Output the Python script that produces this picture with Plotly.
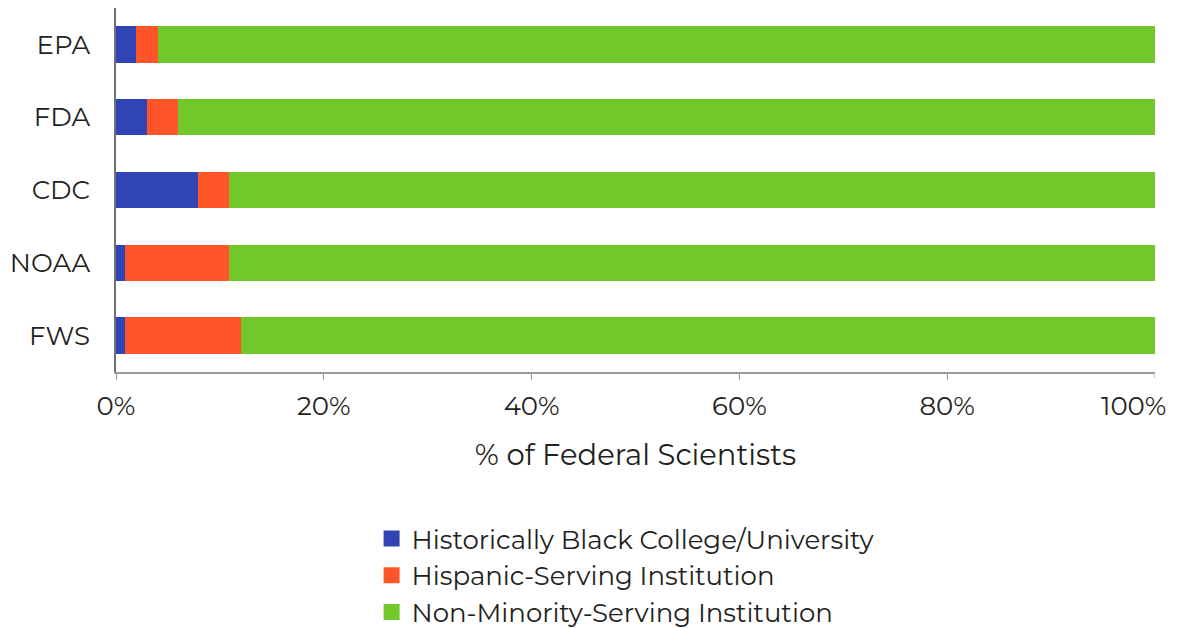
import plotly.graph_objects as go

agencies = ["EPA", "FDA", "CDC", "NOAA", "FWS"]
hbcu = [1.9, 3.0, 7.9, 0.9, 0.9]
hsi = [2.1, 3.0, 3.0, 10.0, 11.1]
non_msi = [96.0, 94.0, 89.1, 89.1, 88.0]

tick_vals = [0, 20, 40, 60, 80, 100]
tick_text = ["0%", "20%", "40%", "60%", "80%", "100%"]

series = [
    ("Historically Black College/University", hbcu, "#3044B5"),
    ("Hispanic-Serving Institution", hsi, "#FF5529"),
    ("Non-Minority-Serving Institution", non_msi, "#72C72A"),
]

fig = go.Figure()
for i, (name, vals, color) in enumerate(series):
    fig.add_trace(go.Bar(
        y=agencies, x=vals, name=name, orientation="h",
        marker=dict(color=color, line=dict(width=0)),
        legendgroup=f"g{i}", showlegend=False,
    ))
    # legend-only entry with a larger square swatch
    fig.add_trace(go.Scatter(
        x=[None], y=[None], mode="markers", name=name,
        marker=dict(symbol="square", size=18, color=color, line=dict(width=0)),
        legendgroup=f"g{i}", showlegend=True, hoverinfo="skip",
    ))

font_family = "Montserrat, Lato, 'Open Sans', sans-serif"
fig.update_layout(
    barmode="stack",
    bargap=0.5,
    width=1177, height=628,
    margin=dict(l=108, r=30, t=0, b=264, autoexpand=False),
    paper_bgcolor="white", plot_bgcolor="white",
    font=dict(family=font_family, color="#231F20", size=26),
    showlegend=True,
    legend=dict(
        orientation="v", x=0.246, xanchor="left", y=-0.393, yanchor="top",
        font=dict(size=26, color="#231F20"), traceorder="normal",
        itemwidth=30, tracegroupgap=0, itemsizing="trace",
    ),
    xaxis=dict(
        range=[0, 100], tickvals=tick_vals[:-1], ticktext=tick_text[:-1],
        showgrid=False, zeroline=False,
        showline=True, linecolor="#9A9A9A", linewidth=1.5,
        ticks="outside", ticklen=6, tickcolor="#9A9A9A",
        tickfont=dict(size=26), ticklabelstandoff=4,
        automargin=False,
        title=dict(text="% of Federal Scientists", font=dict(size=29), standoff=24),
    ),
    yaxis=dict(
        categoryorder="array", categoryarray=agencies, autorange="reversed",
        showgrid=False, zeroline=False, automargin=False,
        showline=True, linecolor="#707070", linewidth=1.5,
        ticks="", tickfont=dict(size=26), ticklabelstandoff=19,
    ),
)

# last tick: mark drawn on the axis, label kept inside the page (right-aligned like the reference)
fig.add_shape(type="line", xref="x", yref="paper", x0=tick_vals[-1], x1=tick_vals[-1],
              y0=0, y1=-6 / 364, line=dict(color="#9A9A9A", width=1))
fig.add_annotation(x=tick_vals[-1], xref="x", y=0, yref="paper", text=tick_text[-1],
                   showarrow=False, xanchor="right", yanchor="middle",
                   xshift=13, yshift=-34, font=dict(size=26))

fig.write_html("out.html")
